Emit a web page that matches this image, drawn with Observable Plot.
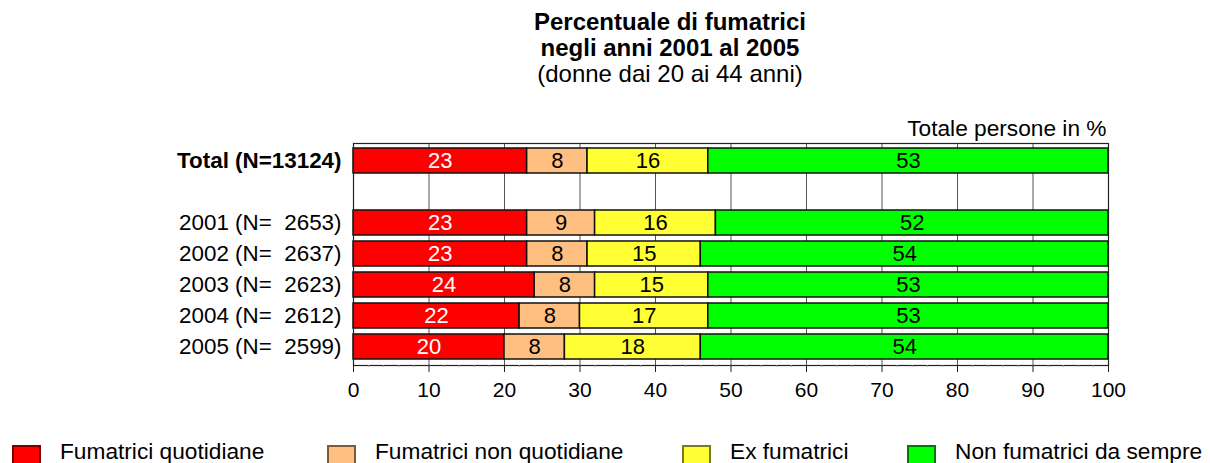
<!DOCTYPE html>
<html>
<head>
<meta charset="utf-8">
<script src="https://cdn.jsdelivr.net/npm/d3@7"></script>
<script src="https://cdn.jsdelivr.net/npm/@observablehq/plot@0.6"></script>
<style>
  html, body { margin: 0; padding: 0; background: #fff; }
  body { font-family: "Liberation Sans", Arial, Helvetica, sans-serif; color: #000; }
  #wrap { position: relative; width: 1210px; height: 463px; overflow: hidden; }
  #title { position: absolute; left: 130px; width: 1080px; top: 9px; text-align: center; font-size: 24px; line-height: 26px; }
  #title .b { font-weight: bold; }
  #chart { position: absolute; left: 0; top: 100px; }
  .leg { position: absolute; top: 441px; font-size: 22.7px; line-height: 21px; white-space: nowrap; }
  .leg .sw { position: absolute; left: 0; top: 4px; width: 29px; height: 24px; border: 2px solid; box-sizing: border-box; }
  .leg .lt { position: absolute; left: 48px; top: 0; }
</style>
</head>
<body>
<div id="wrap">
  <div id="title">
    <div class="b">Percentuale di fumatrici</div>
    <div class="b">negli anni 2001 al 2005</div>
    <div>(donne dai 20 ai 44 anni)</div>
  </div>
  <div id="chart"></div>
  <div id="legend"></div>
</div>
<script>
// ---- data ----
const rows = ["Total (N=13124)", "2001 (N=\u00A0\u00A02653)", "2002 (N=\u00A0\u00A02637)", "2003 (N=\u00A0\u00A02623)", "2004 (N=\u00A0\u00A02612)", "2005 (N=\u00A0\u00A02599)"];
const yDomain = ["Total (N=13124)", "", "2001 (N=\u00A0\u00A02653)", "2002 (N=\u00A0\u00A02637)", "2003 (N=\u00A0\u00A02623)", "2004 (N=\u00A0\u00A02612)", "2005 (N=\u00A0\u00A02599)"];
const series = ["Fumatrici quotidiane", "Fumatrici non quotidiane", "Ex fumatrici", "Non fumatrici da sempre"];
const quotidiane    = [23, 23, 23, 24, 22, 20];
const nonQuotidiane = [8, 9, 8, 8, 8, 8];
const exFumatrici   = [16, 16, 15, 15, 17, 18];
const maiFumatrici  = [53, 52, 54, 53, 53, 54];
const xTicks = [0, 10, 20, 30, 40, 50, 60, 70, 80, 90, 100];

const colors = ["#FF0000", "#FFBF80", "#FFFF33", "#00FF00"];
const borders = ["#7a0000", "#7a5a3a", "#7a7a20", "#007a00"];

const values = [quotidiane, nonQuotidiane, exFumatrici, maiFumatrici];
const table = [];
rows.forEach((r, i) => {
  series.forEach((s, j) => {
    table.push({row: r, series: s, value: values[j][i], first: j === 0});
  });
});

const font = '"Liberation Sans", Arial, Helvetica, sans-serif';

const chart = Plot.plot({
  width: 1210,
  height: 330,
  marginTop: 43,
  marginBottom: 65,
  marginLeft: 353,
  marginRight: 102,
  style: {fontFamily: font, fontSize: "21px", color: "#000", background: "#fff"},
  x: {domain: [0, 100]},
  y: {domain: yDomain, paddingInner: 0.18, paddingOuter: 0.09},
  color: {domain: series, range: colors},
  marks: [
    Plot.ruleX(xTicks.slice(1), {stroke: "#555", strokeWidth: 1}),
    Plot.barX(table, Plot.stackX({x: "value", y: "row", fill: "series", order: null, stroke: "#111", strokeWidth: 1.5})),
    Plot.text(table, Plot.stackX({x: "value", y: "row", z: "series", order: null, text: d => d.first ? String(d.value) : "", fill: "white", fontSize: 22})),
    Plot.text(table, Plot.stackX({x: "value", y: "row", z: "series", order: null, text: d => d.first ? "" : String(d.value), fill: "black", fontSize: 22})),
    Plot.frame({stroke: "#222", strokeWidth: 1.2}),
    Plot.axisX({ticks: d3.range(0, 101, 2), tickSize: 2, text: null, stroke: "#999", label: null}),
    Plot.axisX({ticks: xTicks, tickSize: 7, tickPadding: 10, fontSize: 21, label: null, stroke: "#222"}),
    Plot.axisY({tickSize: 0, tickPadding: 12, fontSize: 22.4, label: null, tickFormat: d => d.startsWith("Total") ? "" : d}),
    Plot.axisY({tickSize: 0, tickPadding: 12, fontSize: 22.4, label: null, fontWeight: "bold", tickFormat: d => d.startsWith("Total") ? d : ""}),
    Plot.text(["Totale persone in %"], {frameAnchor: "top-right", text: d => d, textAnchor: "end", lineAnchor: "middle", dx: -2, dy: -15, fontSize: 22.7})
  ]
});
document.getElementById("chart").appendChild(chart);

// ---- legend ----
const legendLeft = [12, 327, 682, 907];
const legend = document.getElementById("legend");
series.forEach((s, i) => {
  const item = document.createElement("div");
  item.className = "leg";
  item.style.left = legendLeft[i] + "px";
  const sw = document.createElement("div");
  sw.className = "sw";
  sw.style.background = colors[i];
  sw.style.borderColor = borders[i];
  const lt = document.createElement("div");
  lt.className = "lt";
  lt.textContent = s;
  item.appendChild(sw);
  item.appendChild(lt);
  legend.appendChild(item);
});
</script>
</body>
</html>
